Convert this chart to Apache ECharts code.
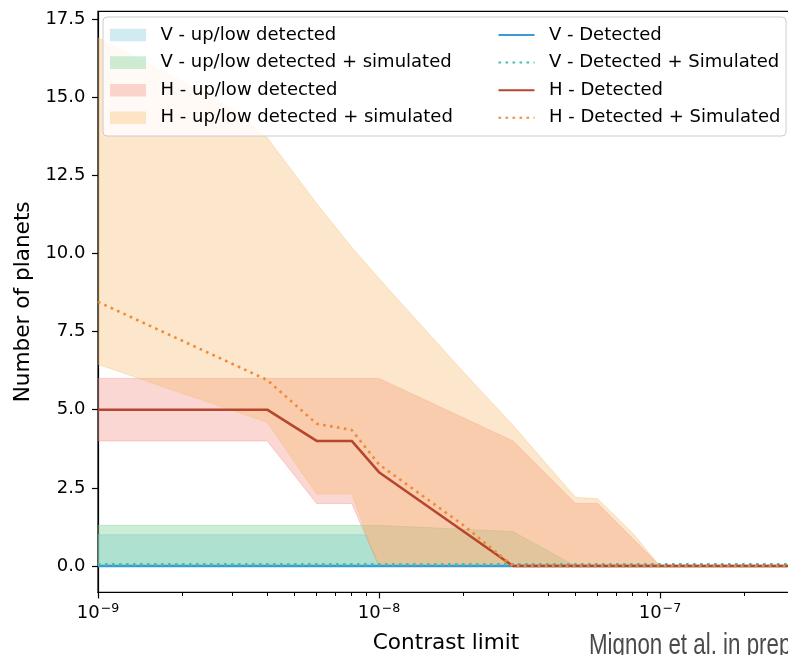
<!DOCTYPE html>
<html>
<head>
<meta charset="utf-8">
<script src="https://cdn.jsdelivr.net/npm/echarts@6/dist/echarts.min.js"></script>
<style>
html,body{margin:0;padding:0;background:#fff;}
#chart{width:788px;height:655px;}
</style>
</head>
<body>
<div id="chart"></div>
<script>
// ---------------- data ----------------
// V band: up/low detected
const vBandX    = [1e-9, 9e-9, 1e-8, 3e-7];
const vBandLow  = [0, 0, 0, 0];
const vBandHigh = [1, 1, 0, 0];
// V band: up/low detected + simulated
const vSimBandX    = [1e-9, 1e-8, 3e-8, 5e-8, 3e-7];
const vSimBandLow  = [0, 0, 0, 0, 0];
const vSimBandHigh = [1.3, 1.3, 1.1, 0, 0];
// H band: up/low detected
const hBandX    = [1e-9, 4e-9, 6e-9, 8e-9, 1e-8, 3e-8, 5e-8, 6e-8, 1e-7, 3e-7];
const hBandLow  = [4, 4, 2, 2, 0, 0, 0, 0, 0, 0];
const hBandHigh = [6, 6, 6, 6, 6, 4, 2, 2, 0, 0];
// H band: up/low detected + simulated
const hSimBandX    = [1e-9, 2e-9, 3e-9, 4e-9, 6e-9, 8e-9, 1e-8, 2e-8, 3e-8, 5e-8, 6e-8, 8e-8, 1e-7, 3e-7];
const hSimBandLow  = [6.45, 5.52, 4.98, 4.6, 2.3, 2.3, 0, 0, 0, 0, 0, 0, 0, 0];
const hSimBandHigh = [16.9, 15.5, 14.6, 13.7, 11.6, 10.2, 9.2, 6.2, 4.5, 2.2, 2.15, 1.05, 0, 0];
// lines
const vDetX = [1e-9, 3e-7];
const vDetY = [0, 0];
const vSimX = [1e-9, 3e-7];
const vSimY = [0.05, 0.05];
const hDetX = [1e-9, 4e-9, 6e-9, 8e-9, 1e-8, 3e-8, 3e-7];
const hDetY = [5, 5, 4, 4, 3, 0, 0];
const hSimX = [1e-9, 2e-9, 3e-9, 4e-9, 6e-9, 8e-9, 1e-8, 2e-8, 3e-8, 3e-7];
const hSimY = [8.45, 7.2, 6.47, 5.95, 4.55, 4.35, 3.25, 1.3, 0, 0];
// ticks
const yTicks = [0, 2.5, 5, 7.5, 10, 12.5, 15, 17.5];
const xMinorTicks = [2e-9,3e-9,4e-9,5e-9,6e-9,7e-9,8e-9,9e-9,2e-8,3e-8,4e-8,5e-8,6e-8,7e-8,8e-8,9e-8,2e-7];
const xMin = 1e-9, xMax = 3e-7, yMin = -0.845, yMax = 17.745;

// ---------------- styles ----------------
const FONT = 'DejaVu Sans';
const C = {
  vBand: 'rgba(140,205,225,0.40)',
  vSimBand: 'rgba(110,205,140,0.35)',
  hBand: 'rgba(240,140,125,0.35)',
  hSimBand: 'rgba(247,185,105,0.34)',
  vDet: '#3b9ad6',
  vSim: '#3fc1ad',
  hDet: '#b7462e',
  hSim: '#f08a33'
};

function band(name, xs, lo, hi, color) {
  return {
    type: 'custom', name: name, xAxisIndex: 0, yAxisIndex: 0, z: 2,
    clip: true,
    itemStyle: { color: color },
    data: xs.map((x, i) => [x, lo[i], hi[i]]),
    encode: { x: 0, y: [1, 2] },
    renderItem: function (params, api) {
      if (params.dataIndex !== 0) return null;
      const pts = [];
      for (let i = 0; i < xs.length; i++) pts.push(api.coord([xs[i], hi[i]]));
      for (let i = xs.length - 1; i >= 0; i--) pts.push(api.coord([xs[i], lo[i]]));
      return { type: 'polygon', shape: { points: pts },
        style: { fill: color, stroke: color, lineWidth: 1 } };
    }
  };
}
function line(name, xs, ys, color, dotted) {
  return {
    type: 'line', name: name, xAxisIndex: 0, yAxisIndex: 0, z: 3,
    showSymbol: false, symbol: 'none', animation: false,
    itemStyle: { color: color },
    lineStyle: { color: color, width: 2.6, type: dotted ? [2.6, 4.4] : 'solid', cap: 'butt' },
    data: xs.map((x, i) => [x, ys[i]])
  };
}

const chart = echarts.init(document.getElementById('chart'), null, { renderer: 'canvas' });
const option = {
  animation: false,
  backgroundColor: '#fff',
  textStyle: { fontFamily: FONT },
  grid: { left: 98, top: 11.3, right: -6, bottom: 62.6, show: true, outerBoundsMode: 'none',
          containLabel: false,
          borderColor: '#000', borderWidth: 1.2, backgroundColor: 'transparent' },
  xAxis: [{
    type: 'log', logBase: 10, min: xMin, max: xMax,
    name: 'Contrast limit', nameLocation: 'middle', nameGap: 40,
    nameTextStyle: { fontSize: 21.6, color: '#000', fontFamily: FONT },
    axisLine: { onZero: false, lineStyle: { color: '#000', width: 1.2 } },
    axisTick: { show: true, length: 6, lineStyle: { color: '#000', width: 1.2 } },
    splitLine: { show: false },
    axisLabel: {
      margin: 10, color: '#000',
      formatter: function (v) {
        const l = Math.log10(v), e = Math.round(l);
        if (Math.abs(l - e) > 1e-6) return '';
        return '{b|10}{s|\u2212' + (-e) + '}';
      },
      rich: {
        b: { fontSize: 18, fontFamily: FONT, color: '#000' },
        s: { fontSize: 12.6, fontFamily: FONT, color: '#000', padding: [0, 0, 8, 1] }
      }
    }
  }, {
    type: 'value', min: Math.log10(xMin), max: Math.log10(xMax), position: 'bottom',
    axisLine: { show: false, onZero: false },
    axisLabel: { show: false },
    splitLine: { show: false },
    axisTick: { show: true, length: 3.6, customValues: xMinorTicks.map(v => Math.log10(v)),
                lineStyle: { color: '#000', width: 1 } }
  }],
  yAxis: {
    type: 'value', min: yMin, max: yMax,
    name: 'Number of planets', nameLocation: 'middle', nameGap: 60,
    nameTextStyle: { fontSize: 21.6, color: '#000', fontFamily: FONT },
    axisLine: { onZero: false, lineStyle: { color: '#000', width: 1.2 } },
    axisTick: { show: true, length: 6, customValues: yTicks, lineStyle: { color: '#000', width: 1.2 } },
    splitLine: { show: false },
    axisLabel: { customValues: yTicks, margin: 12.5, color: '#000', fontSize: 18, fontFamily: FONT,
                 formatter: v => Number(v).toFixed(1) }
  },
  legend: [{
    orient: 'vertical', left: 110, top: 26, padding: 0, itemGap: 9.6, z: 20,
    itemWidth: 36, itemHeight: 12.6,
    textStyle: { fontSize: 18, color: '#000', fontFamily: FONT, lineHeight: 18, padding: [0, 0, 0, 9.5] },
    data: [
      { name: 'V - up/low detected', icon: 'rect' },
      { name: 'V - up/low detected + simulated', icon: 'rect' },
      { name: 'H - up/low detected', icon: 'rect' },
      { name: 'H - up/low detected + simulated', icon: 'rect' }
    ]
  }, {
    orient: 'vertical', left: 497.5, top: 26, padding: 0, itemGap: 9.6, z: 20,
    itemWidth: 36, itemHeight: 12.6,
    itemStyle: { color: 'transparent', borderColor: 'transparent', borderWidth: 0, opacity: 0 },
    textStyle: { fontSize: 18, color: '#000', fontFamily: FONT, lineHeight: 18, padding: [0, 0, 0, 9.5] },
    data: ['V - Detected', 'V - Detected + Simulated', 'H - Detected', 'H - Detected + Simulated']
  }],
  graphic: [{
    type: 'rect', z: 10, shape: { x: 103, y: 17, width: 683, height: 119, r: 4 },
    style: { fill: 'rgba(255,255,255,0.8)', stroke: '#cccccc', lineWidth: 1 }
  }, {
    type: 'text', z: 10, x: 589, y: 631, scaleX: 0.77,
    style: { text: 'Mignon et al. in prep', fill: '#4a4a4a',
             font: '29px "Liberation Sans"', verticalAlign: 'top' }
  }],
  series: [
    band('V - up/low detected', vBandX, vBandLow, vBandHigh, C.vBand),
    band('V - up/low detected + simulated', vSimBandX, vSimBandLow, vSimBandHigh, C.vSimBand),
    band('H - up/low detected', hBandX, hBandLow, hBandHigh, C.hBand),
    band('H - up/low detected + simulated', hSimBandX, hSimBandLow, hSimBandHigh, C.hSimBand),
    line('V - Detected', vDetX, vDetY, C.vDet, false),
    line('V - Detected + Simulated', vSimX, vSimY, C.vSim, true),
    line('H - Detected', hDetX, hDetY, C.hDet, false),
    line('H - Detected + Simulated', hSimX, hSimY, C.hSim, true)
  ]
};
chart.setOption(option);
</script>
</body>
</html>
